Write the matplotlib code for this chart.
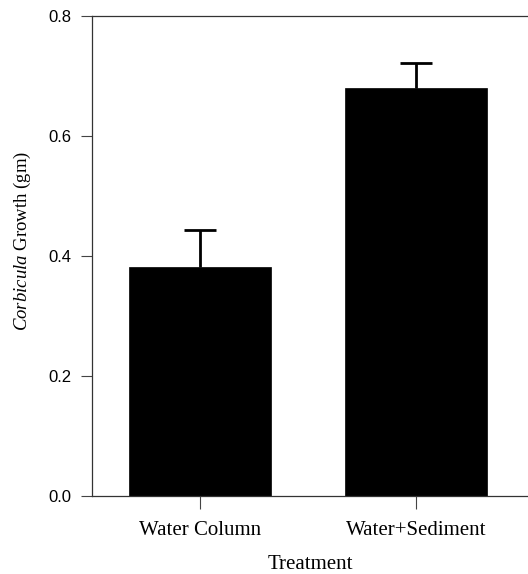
import matplotlib
matplotlib.use("Agg")
import matplotlib.pyplot as plt

plt.rcParams["mathtext.fontset"] = "custom"
plt.rcParams["mathtext.it"] = "Liberation Serif:italic"
plt.rcParams["mathtext.rm"] = "Liberation Serif"

categories = ["Water Column", "Water+Sediment"]
growth = [0.381, 0.680]
errors = [0.062, 0.042]
yticks = [0.0, 0.2, 0.4, 0.6, 0.8]

W, H = 528, 574
fig = plt.figure(figsize=(W / 100, H / 100), dpi=100)
ax = fig.add_axes([92 / W, (H - 496) / H, (W - 92) / W, 480 / H])

x = list(range(len(categories)))
tops = [g + e for g, e in zip(growth, errors)]
ax.bar(x, growth, width=0.66, color="black", edgecolor="black", linewidth=0.5, zorder=2)
ax.vlines(x, growth, tops, colors="black", linewidth=2, zorder=3)
ax.plot(x, tops, linestyle="none", marker="_", markersize=22.5, markeredgewidth=2,
        color="black", zorder=3)

ax.set_xlim(-0.5, 1.52)
ax.set_ylim(0, 0.8)
ax.set_yticks(yticks)
ax.set_yticklabels([f"{v:.1f}" for v in yticks], family="Liberation Sans", fontsize=12)
ax.set_xticks(x)
ax.set_xticklabels(categories, family="Liberation Serif", fontsize=15)

for s in ["left", "top", "bottom"]:
    ax.spines[s].set_color("#333333")
    ax.spines[s].set_linewidth(0.9)
ax.spines["right"].set_visible(False)

ax.tick_params(axis="y", direction="out", length=8, width=0.8, color="#444444", pad=7)
ax.tick_params(axis="x", direction="out", length=9, width=0.8, color="#444444", pad=9)

ax.set_xlabel("Treatment", family="Liberation Serif", fontsize=15, labelpad=11)
ax.set_ylabel(r"$\it{Corbicula}$ Growth (gm)", family="Liberation Serif", fontsize=13.5)
ax.yaxis.set_label_coords(-0.135, 0.531)

fig.savefig("out.png", dpi=100)
